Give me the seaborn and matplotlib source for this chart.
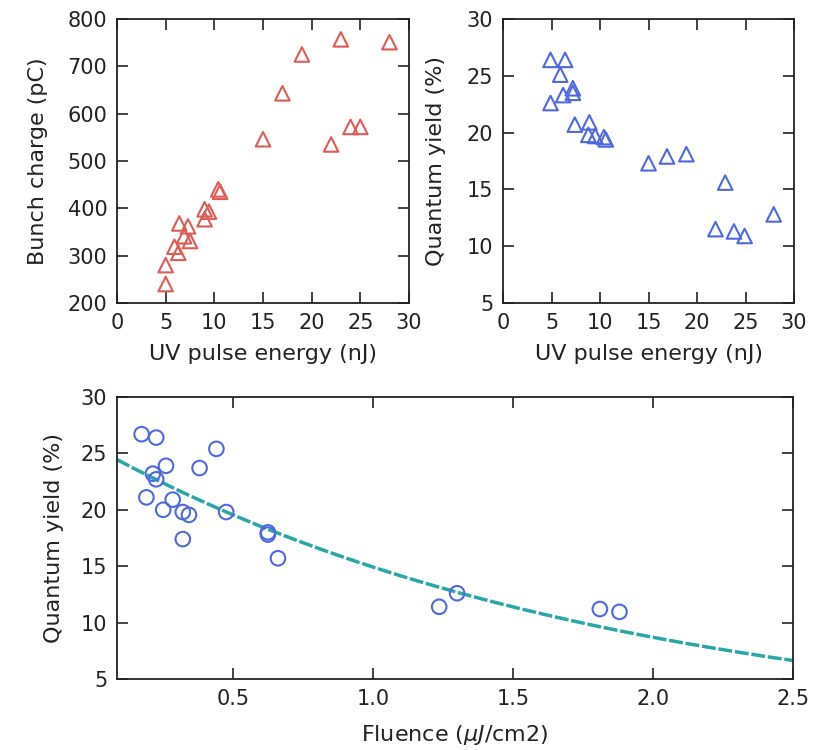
import numpy as np
import pandas as pd
import matplotlib
matplotlib.use("Agg")
import matplotlib.pyplot as plt
import seaborn as sns

# UV pulse energy (nJ) vs bunch charge (pC)
energy_q = [5.0, 5.0, 6.3, 5.9, 7.5, 6.9, 7.3, 6.4, 9.0, 9.45, 9.0, 10.6, 10.4,
            15.0, 17.0, 19.0, 22.0, 23.0, 24.0, 25.0, 28.0]
charge = [240, 280, 306, 319, 331, 341, 362, 368, 377, 393, 398, 435, 440,
          546, 643, 725, 535, 757, 572, 572, 751]

# UV pulse energy (nJ) vs quantum yield (%)
energy_y = [4.9, 6.4, 5.9, 7.2, 7.2, 6.2, 4.9, 7.4, 8.9, 8.8, 9.5, 10.4, 10.6,
            15.0, 16.9, 18.9, 22.9, 21.9, 23.8, 24.9, 27.9]
qy_energy = [26.4, 26.4, 25.1, 23.9, 23.5, 23.3, 22.6, 20.7, 20.9, 19.8, 19.7, 19.6, 19.4,
             17.3, 17.9, 18.1, 15.6, 11.5, 11.3, 10.9, 12.8]

# fluence (uJ/cm2) vs quantum yield (%)
fluence = [0.173, 0.225, 0.44, 0.26, 0.38, 0.213, 0.225, 0.19, 0.284, 0.25, 0.32,
           0.342, 0.475, 0.32, 0.624, 0.624, 0.66, 1.236, 1.30, 1.81, 1.88]
qy_fluence = [26.7, 26.4, 25.4, 23.9, 23.7, 23.2, 22.7, 21.1, 20.9, 20.0, 19.8,
              19.55, 19.8, 17.4, 18.0, 17.8, 15.7, 11.4, 12.6, 11.2, 10.95]

# exponential fit parameters: qy = A * exp(-b * F)
fit_A = 25.6
fit_b = 0.54

red = "#dd5c55"
blue = "#4f68e0"
teal = "#2aa6a6"
tick_fs = 15
label_fs = 16

sns.set_style("ticks")
plt.rcParams["font.family"] = ["DejaVu Sans"]
plt.rcParams["axes.linewidth"] = 1.3
plt.rcParams["axes.edgecolor"] = "#222222"
plt.rcParams["text.color"] = "#222222"
plt.rcParams["axes.labelcolor"] = "#222222"

fig = plt.figure(figsize=(8.2, 7.5), dpi=100)
ax1 = fig.add_axes([0.1427, 0.596, 0.356, 0.3787])
ax2 = fig.add_axes([0.6134, 0.596, 0.355, 0.3787])
ax3 = fig.add_axes([0.1427, 0.0947, 0.8244, 0.376])

df1 = pd.DataFrame({"energy": energy_q, "charge": charge})
sns.scatterplot(data=df1, x="energy", y="charge", ax=ax1, marker="^", s=110,
                facecolor="none", edgecolor=red, linewidth=1.5)
ax1.set_xlim(0, 30)
ax1.set_ylim(200, 800)
ax1.set_xticks(range(0, 31, 5))
ax1.set_yticks(range(200, 801, 100))
ax1.set_xlabel("UV pulse energy (nJ)", fontsize=label_fs, labelpad=8)
ax1.set_ylabel("Bunch charge (pC)", fontsize=label_fs, labelpad=14)

df2 = pd.DataFrame({"energy": energy_y, "qy": qy_energy})
sns.scatterplot(data=df2, x="energy", y="qy", ax=ax2, marker="^", s=110,
                facecolor="none", edgecolor=blue, linewidth=1.5)
ax2.set_xlim(0, 30)
ax2.set_ylim(5, 30)
ax2.set_xticks(range(0, 31, 5))
ax2.set_yticks(range(5, 31, 5))
ax2.set_xlabel("UV pulse energy (nJ)", fontsize=label_fs, labelpad=8)
ax2.set_ylabel("Quantum yield (%)", fontsize=label_fs, labelpad=15)

f_fit = np.linspace(0.085, 2.5, 200)
df_fit = pd.DataFrame({"fluence": f_fit, "qy": fit_A * np.exp(-fit_b * f_fit)})
sns.lineplot(data=df_fit, x="fluence", y="qy", ax=ax3, color=teal, linewidth=2.5,
             linestyle=(0, (4, 0.8)))
df3 = pd.DataFrame({"fluence": fluence, "qy": qy_fluence})
sns.scatterplot(data=df3, x="fluence", y="qy", ax=ax3, marker="o", s=110,
                facecolor="none", edgecolor=blue, linewidth=1.5, zorder=3)
ax3.set_xlim(0.085, 2.5)
ax3.set_ylim(5, 30)
ax3.set_xticks([0.5, 1.0, 1.5, 2.0, 2.5])
ax3.set_yticks(range(5, 31, 5))
ax3.set_xlabel(r"Fluence ($\mu J$/cm2)", fontsize=label_fs, labelpad=10)
ax3.set_ylabel("Quantum yield (%)", fontsize=label_fs, labelpad=12)

for ax in (ax1, ax2, ax3):
    ax.tick_params(direction="in", top=True, right=True, length=8, width=1.2,
                   labelsize=tick_fs, pad=7, colors="#222222")

fig.savefig("out.png", dpi=100)
